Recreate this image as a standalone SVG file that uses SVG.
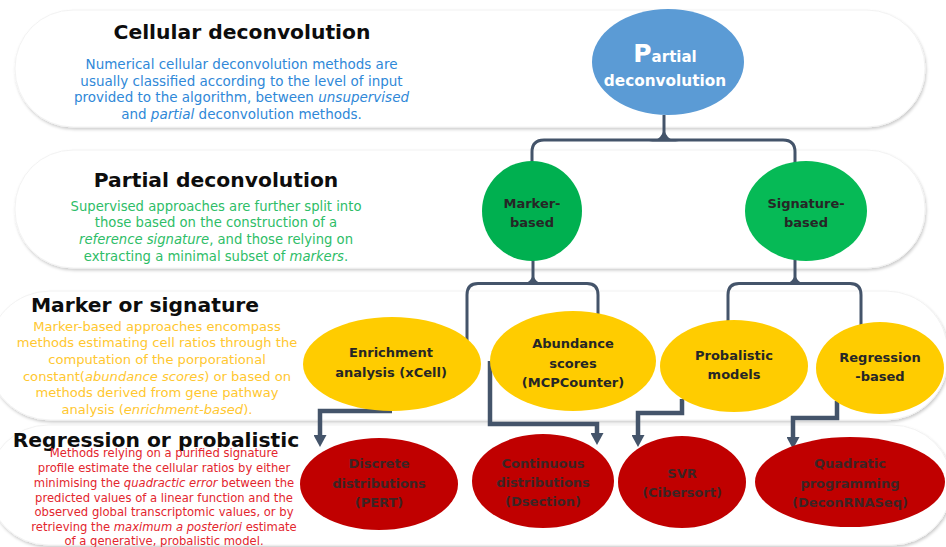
<svg xmlns="http://www.w3.org/2000/svg" width="946" height="547" viewBox="0 0 946 547">
<defs>
<filter id="sh" x="-5%" y="-10%" width="110%" height="130%">
<feDropShadow dx="1" dy="2" stdDeviation="1.5" flood-color="#000" flood-opacity="0.2"/>
</filter>
<marker id="ah" markerUnits="userSpaceOnUse" markerWidth="12" markerHeight="13" viewBox="0 0 12 13" refX="1" refY="6.5" orient="auto">
<path d="M0,0 L12,6.5 L0,13 Z" fill="#44546A"/>
</marker>
<style>
.band{fill:#fff;stroke:#f2f2f2;stroke-width:1;filter:url(#sh)}
.title{font-family:'DejaVu Sans','Liberation Sans',sans-serif;font-weight:bold;font-size:20.3px;fill:#0d0d0d;text-anchor:middle}
.p{font-family:'DejaVu Sans','Liberation Sans',sans-serif;text-anchor:middle}
.blue{fill:#2F88D8;font-size:13.5px}
.green{fill:#2EBD67;font-size:13.2px}
.yellow{fill:#FFC730;font-size:13.1px}
.red{fill:#E3262E;font-size:11.6px}
.i{font-style:italic}
.lbl{font-family:'DejaVu Sans','Liberation Sans',sans-serif;font-weight:bold;font-size:13px;text-anchor:middle;fill:#262626}
.lblr{fill:#3d2424}
.conn{stroke:#44546A;stroke-width:3;fill:none}
.flare{fill:#44546A}
.arrow{stroke:#44546A;stroke-width:4.5;fill:none;stroke-linejoin:miter;marker-end:url(#ah)}
</style>
</defs>
<rect width="946" height="547" fill="#fff"/>
<!-- background bands -->
<rect class="band" x="15" y="10" width="910" height="117" rx="58" ry="58"/>
<rect class="band" x="15" y="150" width="910" height="118" rx="58" ry="58"/>
<rect class="band" x="-12" y="291" width="960" height="129" rx="62" ry="62"/>
<rect class="band" x="-12" y="425" width="964" height="120" rx="60" ry="60"/>

<!-- left texts -->
<text class="title" x="242" y="39">Cellular deconvolution</text>
<text class="p blue" x="241.5" y="69">Numerical cellular deconvolution methods are</text>
<text class="p blue" x="241.5" y="86">usually classified  according to the level of input</text>
<text class="p blue" x="241.5" y="102">provided to the algorithm, between <tspan class="i">unsupervised</tspan></text>
<text class="p blue" x="241.5" y="119">and <tspan class="i">partial</tspan> deconvolution methods.</text>

<text class="title" x="216" y="187">Partial deconvolution</text>
<text class="p green" x="216" y="211">Supervised approaches are further split into</text>
<text class="p green" x="216" y="227">those based on the construction of a</text>
<text class="p green" x="216" y="244"><tspan class="i">reference signature</tspan>, and those relying on</text>
<text class="p green" x="216" y="261">extracting a minimal subset of <tspan class="i">markers</tspan>.</text>

<text class="title" x="145" y="312">Marker or signature</text>
<text class="p yellow" x="157" y="331">Marker-based approaches encompass</text>
<text class="p yellow" x="157" y="347">methods estimating cell ratios through the</text>
<text class="p yellow" x="157" y="364">computation of the porporational</text>
<text class="p yellow" x="157" y="381">constant(<tspan class="i">abundance scores</tspan>) or based on</text>
<text class="p yellow" x="157" y="397">methods derived from gene pathway</text>
<text class="p yellow" x="157" y="414">analysis (<tspan class="i">enrichment-based</tspan>).</text>

<text class="title" x="156" y="447">Regression or probalistic</text>
<text class="p red" x="164" y="457">Methods relying on a purified signature</text>
<text class="p red" x="164" y="472">profile estimate the cellular ratios by either</text>
<text class="p red" x="164" y="487">minimising the <tspan class="i">quadractic error</tspan> between the</text>
<text class="p red" x="164" y="502">predicted values of a linear function and the</text>
<text class="p red" x="164" y="516">observed global transcriptomic values, or by</text>
<text class="p red" x="164" y="531">retrieving the <tspan class="i">maximum a posteriori</tspan> estimate</text>
<text class="p red" x="164" y="545">of a generative, probalistic model.</text>

<!-- connectors -->
<g id="connectors">
<path class="conn" d="M664 115 V140"/>
<path class="flare" d="M649 141.5 Q664 140 664 125 Q664 140 679 141.5 Z"/>
<path class="conn" d="M532 163 V152 Q532 140 544 140 H783 Q795 140 795 152 V163"/>

<path class="conn" d="M533 258 V283"/>
<path class="flare" d="M519 285 Q533 283.5 533 271 Q533 283.5 547 285 Z"/>
<path class="conn" d="M467 345 V295 Q467 283.5 478 283.5 H587 Q598 283.5 598 295 V322"/>

<path class="conn" d="M795 258 V283"/>
<path class="flare" d="M781 285 Q795 283.5 795 271 Q795 283.5 809 285 Z"/>
<path class="conn" d="M728 335 V295 Q728 283.5 739 283.5 H850 Q861 283.5 861 295 V335"/>

<path class="arrow" d="M392 411 H320 V436"/>
<path class="arrow" d="M490 361 V424 H597 V434"/>
<path class="arrow" d="M682 399 V413 H638 V436"/>
<path class="arrow" d="M837 401 V418 H793 V438"/>
</g>

<!-- nodes -->
<g id="root">
<ellipse cx="668" cy="62" rx="76" ry="53" fill="#5B9BD5"/>
<text class="lbl" x="665" y="62" fill="#fff" style="fill:#fff"><tspan font-size="25">P</tspan><tspan font-size="15">artial</tspan></text>
<text class="lbl" x="665" y="86" style="fill:#fff;font-size:15.3px">deconvolution</text>
</g>
<g id="marker-based">
<ellipse cx="532" cy="211" rx="50" ry="50" fill="#00B050"/>
<text class="lbl" x="532" y="208">Marker-</text>
<text class="lbl" x="532" y="227">based</text>
</g>
<g id="signature-based">
<ellipse cx="806" cy="211" rx="61" ry="50" fill="#06BA56"/>
<text class="lbl" x="806" y="208">Signature-</text>
<text class="lbl" x="806" y="227">based</text>
</g>
<g id="enrichment">
<ellipse cx="392" cy="364" rx="89" ry="47" fill="#FFCC00"/>
<text class="lbl" x="391" y="357">Enrichment</text>
<text class="lbl" x="391" y="377">analysis (xCell)</text>
</g>
<g id="abundance">
<ellipse cx="573" cy="361" rx="83" ry="50" fill="#FFCC00"/>
<text class="lbl" x="573" y="348">Abundance</text>
<text class="lbl" x="573" y="368">scores</text>
<text class="lbl" x="573" y="387">(MCPCounter)</text>
</g>
<g id="probalistic">
<ellipse cx="734" cy="366" rx="74" ry="46" fill="#FFCC00"/>
<text class="lbl" x="734" y="360">Probalistic</text>
<text class="lbl" x="734" y="379">models</text>
</g>
<g id="regression">
<ellipse cx="880" cy="368" rx="64" ry="46" fill="#FFCC00"/>
<text class="lbl" x="880" y="362">Regression</text>
<text class="lbl" x="880" y="381">-based</text>
</g>
<g id="discrete">
<ellipse cx="379" cy="484" rx="79" ry="46" fill="#C00000"/>
<text class="lbl lblr" x="379" y="468">Discrete</text>
<text class="lbl lblr" x="379" y="488">distributions</text>
<text class="lbl lblr" x="379" y="507">(PERT)</text>
</g>
<g id="continuous">
<ellipse cx="543" cy="481" rx="71" ry="47" fill="#C00000"/>
<text class="lbl lblr" x="543" y="468">Continuous</text>
<text class="lbl lblr" x="543" y="487">distributions</text>
<text class="lbl lblr" x="543" y="506">(Dsection)</text>
</g>
<g id="svr">
<ellipse cx="682" cy="482" rx="64" ry="46" fill="#C00000"/>
<text class="lbl lblr" x="682" y="478">SVR</text>
<text class="lbl lblr" x="682" y="497">(Cibersort)</text>
</g>
<g id="quadratic">
<ellipse cx="850" cy="482" rx="95" ry="45" fill="#C00000"/>
<text class="lbl lblr" x="850" y="468">Quadratic</text>
<text class="lbl lblr" x="850" y="488">programming</text>
<text class="lbl lblr" x="850" y="507">(DeconRNASeq)</text>
</g>
</svg>
